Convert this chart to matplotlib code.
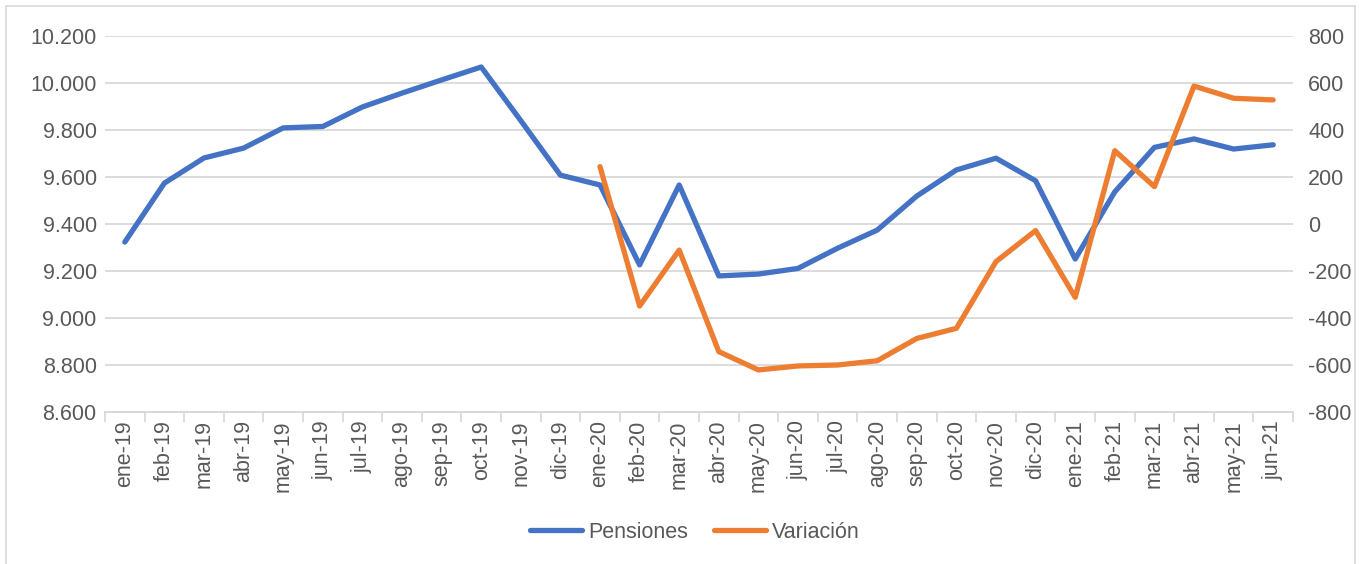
import matplotlib
matplotlib.use("Agg")
import matplotlib.pyplot as plt
from matplotlib.patches import Rectangle
from matplotlib.ticker import FuncFormatter, FixedLocator, MultipleLocator

months = ["ene-19", "feb-19", "mar-19", "abr-19", "may-19", "jun-19", "jul-19", "ago-19",
          "sep-19", "oct-19", "nov-19", "dic-19", "ene-20", "feb-20", "mar-20", "abr-20",
          "may-20", "jun-20", "jul-20", "ago-20", "sep-20", "oct-20", "nov-20", "dic-20",
          "ene-21", "feb-21", "mar-21", "abr-21", "may-21", "jun-21"]

pensiones = [9323, 9574, 9681, 9723, 9809, 9815, 9898, 9957, 10013, 10068,
             9840, 9608, 9566, 9226, 9566, 9179, 9187, 9211, 9297, 9374,
             9519, 9630, 9680, 9584, 9251, 9537, 9726, 9762, 9719, 9737]

variacion_months = months[12:]
variacion = [244, -349, -111, -543, -621, -604, -600, -582, -487, -444,
             -160, -28, -312, 312, 159, 587, 535, 528]

FONT = ["Liberation Sans Narrow", "Liberation Sans", "DejaVu Sans"]
plt.rcParams["font.family"] = FONT
TXT = "#595959"
GRID = "#d9d9d9"
BLUE = "#4472C4"
ORANGE = "#ED7D31"
FS = 15.5

fig = plt.figure(figsize=(13.59, 5.64), dpi=100)
fig.patches.append(Rectangle((6 / 1359, -0.1), (1355 - 6) / 1359, 1 - 6 / 564 + 0.1,
                             transform=fig.transFigure, fill=False,
                             edgecolor=GRID, linewidth=1.2))

ax = fig.add_axes([105 / 1359, 1 - 412 / 564, (1293 - 105) / 1359, (412 - 36) / 564])
ax2 = ax.twinx()

x = list(range(len(months)))
xv = [months.index(m) for m in variacion_months]

l1, = ax.plot(x, pensiones, color=BLUE, lw=3.8, solid_capstyle="round",
              solid_joinstyle="round", label="Pensiones", zorder=3)
l2, = ax2.plot(xv, variacion, color=ORANGE, lw=3.8, solid_capstyle="round",
               solid_joinstyle="round", label="Variación", zorder=3)

ax.set_xlim(-0.5, len(months) - 0.5)
ax.set_ylim(8600, 10200)
ax2.set_ylim(-800, 800)
ax.yaxis.set_major_locator(MultipleLocator(200))
ax2.yaxis.set_major_locator(MultipleLocator(200))
ax.yaxis.set_major_formatter(FuncFormatter(lambda v, p: f"{v:,.0f}".replace(",", ".")))
ax2.yaxis.set_major_formatter(FuncFormatter(lambda v, p: f"{v:.0f}"))

ax.grid(axis="y", color=GRID, lw=1.3, zorder=0)
ax.set_axisbelow(True)

for a in (ax, ax2):
    for s in ("top", "left", "right"):
        a.spines[s].set_visible(False)
    a.spines["bottom"].set_color(GRID)
    a.spines["bottom"].set_linewidth(1.3)

ax.set_xticks(x)
ax.set_xticklabels(months, rotation=90, fontsize=FS, color=TXT)
ax.tick_params(axis="x", length=0, pad=6)
ax.xaxis.set_minor_locator(FixedLocator([i - 0.5 for i in range(len(months) + 1)]))
ax.tick_params(axis="x", which="minor", length=7, width=1.3, color=GRID)
ax.tick_params(axis="y", length=0, labelsize=FS, labelcolor=TXT, pad=6)
ax2.tick_params(axis="y", length=0, labelsize=FS, labelcolor=TXT, pad=11)

fig.legend(handles=[l1, l2], loc="center", bbox_to_anchor=(695 / 1359, 1 - 532 / 564),
           ncol=2, frameon=False, fontsize=FS, labelcolor=TXT, handlelength=2.4,
           handletextpad=0.3, columnspacing=1.2)

fig.savefig("out.png", dpi=100)
